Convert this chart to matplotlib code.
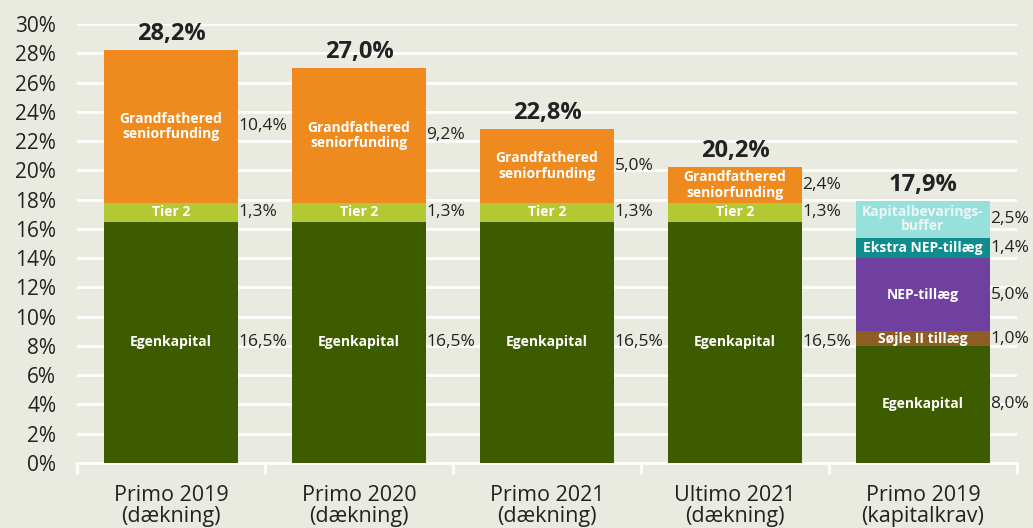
import matplotlib.pyplot as plt
import numpy as np

plt.rcParams['font.family'] = ['Open Sans', 'DejaVu Sans']

categories = ['Primo 2019\n(dækning)', 'Primo 2020\n(dækning)', 'Primo 2021\n(dækning)',
              'Ultimo 2021\n(dækning)', 'Primo 2019\n(kapitalkrav)']

# coverage columns (first four)
egenkapital = [16.5, 16.5, 16.5, 16.5]
tier2 = [1.3, 1.3, 1.3, 1.3]
grandfathered = [10.4, 9.2, 5.0, 2.4]
totals = [28.2, 27.0, 22.8, 20.2, 17.9]

# requirement column (last)
krav_labels = ['Egenkapital', 'Søjle II tillæg', 'NEP-tillæg', 'Ekstra NEP-tillæg', 'Kapitalbevarings-\nbuffer']
krav_values = [8.0, 1.0, 5.0, 1.4, 2.5]
krav_colors = ['#3d5c00', '#8e5d24', '#7040a0', '#0f8d8c', '#98e0dc']

yticks = np.arange(0, 31, 2)

bg = '#e9ebe1'
c_eg = '#3d5c00'
c_t2 = '#b2c934'
c_gf = '#ee8a1e'
width = 0.713


def fmt(v):
    return f'{v:.1f}%'.replace('.', ',')


fig = plt.figure(figsize=(10.33, 5.28), dpi=100, facecolor=bg)
ax = fig.add_axes([0.0745, 0.1231, 0.9100, 0.8314], facecolor=bg)

x = np.arange(len(categories))
xc = x[:4]

segments = [
    (egenkapital, c_eg, 'Egenkapital'),
    (tier2, c_t2, 'Tier 2'),
    (grandfathered, c_gf, 'Grandfathered\nseniorfunding'),
]
bottom = np.zeros(4)
for vals, col, name in segments:
    vals = np.array(vals)
    ax.bar(xc, vals, width, bottom=bottom, color=col, zorder=3)
    for xi, b, v in zip(xc, bottom, vals):
        ax.text(xi, b + v / 2, name, ha='center', va='center', color='white',
                fontsize=10, fontweight='bold', linespacing=1.1, zorder=4)
        ax.text(xi + width / 2 + 0.003, b + v / 2, fmt(v), ha='left', va='center',
                color='#222222', fontsize=12.5, zorder=4)
    bottom += vals

b = 0.0
for name, v, col in zip(krav_labels, krav_values, krav_colors):
    ax.bar(x[4], v, width, bottom=b, color=col, zorder=3)
    tc = '#eef6f4' if col == '#98e0dc' else 'white'
    ax.text(x[4], b + v / 2, name, ha='center', va='center', color=tc,
            fontsize=10, fontweight='bold', linespacing=1.0, zorder=4)
    ax.text(x[4] + width / 2 + 0.003, b + v / 2, fmt(v), ha='left', va='center',
            color='#222222', fontsize=12.5, zorder=4)
    b += v

for xi, t in zip(x, totals):
    ax.text(xi, t + 0.3, fmt(t), ha='center', va='bottom', color='#222222',
            fontsize=17, fontweight='bold', zorder=4)

ax.set_xlim(-0.5, 4.5)
ax.set_ylim(0, 30)
ax.set_yticks(yticks)
ax.set_yticklabels([f'{t}%' for t in yticks], fontsize=15, color='#222222')
ax.set_xticks(x)
ax.set_xticklabels(categories, fontsize=15.5, color='#222222', linespacing=1.0)
ax.tick_params(axis='y', length=0, pad=15)
ax.tick_params(axis='x', length=0, pad=16)
ax.set_xticks(np.arange(-0.5, 5.0, 1.0), minor=True)
ax.tick_params(axis='x', which='minor', length=8, color='white', width=2)
ax.grid(axis='y', color='white', linewidth=2, zorder=0)
ax.set_axisbelow(True)
for s in ax.spines.values():
    s.set_visible(False)
ax.axhline(0, color='white', linewidth=2, zorder=1, clip_on=False)

fig.savefig('out.png', dpi=100, facecolor=bg)
